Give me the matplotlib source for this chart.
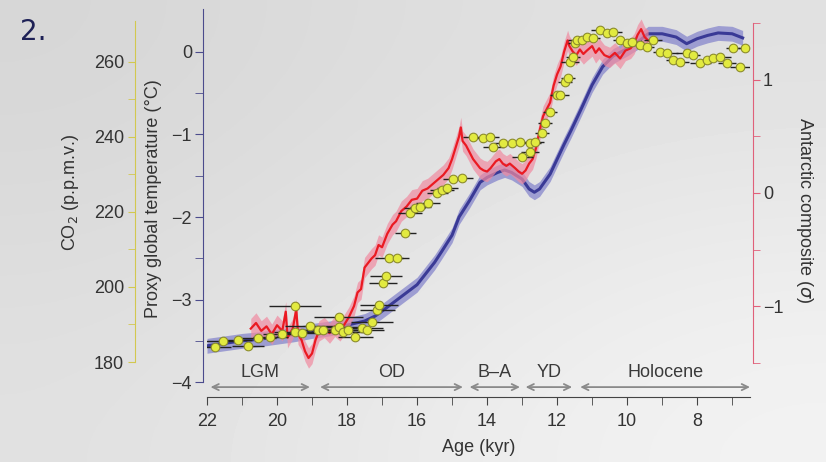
import numpy as np
import matplotlib
matplotlib.use("Agg")
import matplotlib.pyplot as plt

plt.rcParams['font.family'] = ['Liberation Sans', 'DejaVu Sans']

# global temperature stack (deg C) vs age (kyr)
temp_age = [22.0, 21.5, 21.0, 20.5, 20.0, 19.5, 19.0, 18.5, 18.0, 17.5, 17.2, 17.0,
            16.5, 16.0, 15.5, 15.3, 15.0, 14.8, 14.5, 14.2, 14.0, 13.7, 13.5, 13.3,
            13.0, 12.8, 12.65, 12.5, 12.2, 12.0, 11.8, 11.6, 11.3, 11.0, 10.7, 10.4,
            10.0, 9.7, 9.4, 9.0, 8.6, 8.3, 8.0, 7.7, 7.4, 7.0, 6.7]
temp_val = [-3.56, -3.53, -3.50, -3.48, -3.45, -3.42, -3.38, -3.35, -3.31, -3.26, -3.20, -3.14,
            -2.98, -2.82, -2.55, -2.42, -2.22, -2.00, -1.80, -1.58, -1.52, -1.46, -1.43, -1.46,
            -1.54, -1.66, -1.70, -1.66, -1.48, -1.30, -1.12, -0.95, -0.68, -0.40, -0.18, -0.05,
            0.04, 0.12, 0.22, 0.22, 0.18, 0.10, 0.16, 0.20, 0.23, 0.22, 0.17]
temp_unc = 0.09

# Antarctic composite (sigma)
ant_age = [20.75, 20.6, 20.45, 20.3, 20.15, 20.0, 19.85, 19.75, 19.7, 19.55, 19.45, 19.4,
           19.3, 19.2, 19.1, 19.0, 18.9, 18.8, 18.65, 18.5, 18.35, 18.2, 18.05, 17.95,
           17.8, 17.7, 17.6, 17.5, 17.4, 17.3, 17.2, 17.1, 17.0, 16.85, 16.7, 16.6,
           16.45, 16.3, 16.15, 16.0, 15.85, 15.7, 15.55, 15.4, 15.25, 15.1, 15.0, 14.9,
           14.8, 14.75, 14.7, 14.6, 14.5, 14.4, 14.3, 14.2, 14.1, 14.0, 13.9, 13.75,
           13.65, 13.55, 13.45, 13.35, 13.2, 13.1, 13.0, 12.9, 12.8, 12.7, 12.6, 12.5,
           12.4, 12.3, 12.2, 12.1, 12.0, 11.9, 11.8, 11.7, 11.65, 11.55, 11.45, 11.35,
           11.25, 11.15, 11.0, 10.9, 10.8, 10.65, 10.5, 10.35, 10.2, 10.05, 9.9, 9.8,
           9.7, 9.6, 9.5, 9.4]
ant_val = [-1.20, -1.15, -1.22, -1.18, -1.25, -1.17, -1.22, -1.05, -1.28, -1.20, -1.03, -1.25,
           -1.30, -1.40, -1.46, -1.42, -1.30, -1.22, -1.19, -1.24, -1.18, -1.22, -1.15, -1.10,
           -1.00, -0.88, -0.85, -0.66, -0.62, -0.58, -0.55, -0.46, -0.48, -0.36, -0.28, -0.25,
           -0.16, -0.12, -0.06, -0.05, 0.02, 0.04, 0.08, 0.12, 0.16, 0.22, 0.30, 0.40,
           0.50, 0.58, 0.46, 0.42, 0.36, 0.30, 0.26, 0.22, 0.20, 0.19, 0.22, 0.28,
           0.30, 0.26, 0.24, 0.26, 0.22, 0.19, 0.17, 0.20, 0.26, 0.30, 0.40, 0.55,
           0.68, 0.74, 0.80, 0.95, 1.05, 1.12, 1.25, 1.35, 1.30, 1.25, 1.22, 1.27,
           1.23, 1.26, 1.30, 1.24, 1.28, 1.22, 1.20, 1.24, 1.19, 1.26, 1.28, 1.32,
           1.40, 1.45, 1.38, 1.35]
ant_unc = 0.09

# CO2 (ppmv) with age uncertainty (kyr)
co2_age = [21.77, 21.54, 21.11, 20.83, 20.54, 20.20, 19.86, 19.49, 19.49, 19.29, 19.06, 18.83,
           18.69, 18.34, 18.23, 18.23, 18.11, 17.97, 17.77, 17.57, 17.43, 17.29, 17.14, 17.09,
           16.97, 16.89, 16.80, 16.57, 16.34, 16.20, 16.06, 15.91, 15.69, 15.43, 15.29, 15.14,
           14.97, 14.71, 14.40, 14.11, 13.91, 13.83, 13.54, 13.29, 13.06, 13.00, 12.77, 12.77,
           12.63, 12.43, 12.34, 12.20, 12.00, 11.91, 11.77, 11.69, 11.63, 11.54, 11.49, 11.43,
           11.29, 11.14, 10.97, 10.77, 10.57, 10.40, 10.20, 10.00, 9.86, 9.63, 9.43, 9.26,
           9.06, 8.86, 8.69, 8.49, 8.29, 8.11, 7.91, 7.71, 7.54, 7.34, 7.14, 6.97,
           6.77, 6.63]
co2_ppm = [184.0, 185.6, 185.9, 184.3, 186.4, 186.7, 187.5, 194.9, 188.0, 187.7, 189.6, 188.5,
           188.5, 188.5, 192.0, 189.3, 188.0, 188.5, 186.7, 189.0, 188.5, 190.7, 193.9, 195.2,
           201.1, 203.0, 207.7, 207.7, 214.4, 219.7, 221.0, 221.3, 222.4, 225.0, 225.9, 226.4,
           228.8, 229.1, 240.0, 239.7, 240.0, 237.3, 238.4, 238.4, 238.7, 234.7, 236.0, 238.4,
           238.7, 241.0, 243.7, 246.7, 251.2, 251.2, 254.7, 255.7, 260.0, 261.3, 265.0, 265.9,
           265.9, 266.7, 266.4, 268.5, 267.7, 268.0, 265.9, 265.0, 265.3, 264.5, 264.0, 265.9,
           262.7, 262.4, 260.5, 260.0, 262.4, 261.9, 259.7, 260.5, 261.0, 261.3, 259.7, 263.7,
           258.7, 263.7]
co2_err = [0.45, 0.5, 0.4, 0.45, 0.5, 0.5, 0.55, 0.75, 0.6, 0.5, 0.7, 0.6,
           0.5, 0.8, 0.7, 0.6, 0.6, 0.55, 0.5, 0.6, 0.5, 0.6, 0.5, 0.55,
           0.4, 0.45, 0.4, 0.35, 0.3, 0.35, 0.3, 0.3, 0.35, 0.3, 0.35, 0.3,
           0.3, 0.3, 0.3, 0.3, 0.25, 0.3, 0.25, 0.3, 0.25, 0.3, 0.25, 0.3,
           0.25, 0.2, 0.2, 0.2, 0.2, 0.25, 0.2, 0.2, 0.25, 0.2, 0.2, 0.25,
           0.2, 0.25, 0.2, 0.25, 0.2, 0.25, 0.2, 0.25, 0.2, 0.25, 0.2, 0.25,
           0.2, 0.3, 0.2, 0.25, 0.3, 0.2, 0.3, 0.25, 0.2, 0.3, 0.25, 0.2,
           0.3, 0.2]

periods = ['LGM', 'OD', 'B\u2013A', 'YD', 'Holocene']
period_start = [21.9, 18.77, 14.5, 12.9, 11.34]
period_end = [19.06, 14.69, 13.06, 11.57, 6.49]

PX = 0.72  # points per pixel at 100 dpi

fig = plt.figure(figsize=(8.26, 4.62), dpi=100)

# cloudy sky background
bg = fig.add_axes([0, 0, 1, 1], zorder=-10)
bg.imshow([[0.84, 0.87, 0.88], [0.86, 0.89, 0.92], [0.88, 0.92, 0.95]], cmap='gray',
          vmin=0, vmax=1, interpolation='bicubic', aspect='auto', extent=(0, 1, 0, 1))
bg.axis('off')

ax = fig.add_axes([207 / 826, 1 - 397 / 462, 543 / 826, 388 / 462])
ax.patch.set_alpha(0)
ax_r = ax.twinx()
ax_c = ax.twinx()

tcol = '#333333'
t = np.array(temp_val)
ax.fill_between(temp_age, t - temp_unc, t + temp_unc, color='#8686cc', alpha=0.75, lw=0)
ax.plot(temp_age, temp_val, color='#3a3a96', lw=2.2)

a = np.array(ant_val)
ax_r.fill_between(ant_age, a - ant_unc, a + ant_unc, color='#f08aa0', alpha=0.7, lw=0)
ax_r.plot(ant_age, ant_val, color='#ea1a22', lw=1.6)

ax_c.errorbar(co2_age, co2_ppm, xerr=co2_err, fmt='o', ms=6.2, mfc='#e2ea40', mec='#8c8c2c',
              mew=0.8, ecolor='#222222', elinewidth=1, capsize=0)

ax.set_xlim(22, 6.49)
ax.set_ylim(-4.18, 0.52)
ax_r.set_ylim(-1.805, 1.628)
ax_c.set_ylim(170.67, 274.1)

for a_ in (ax, ax_r, ax_c):
    a_.spines['top'].set_visible(False)
for a_ in (ax_r, ax_c):
    a_.spines['bottom'].set_visible(False)
ax.spines['right'].set_visible(False)
ax_c.spines['right'].set_visible(False)
ax_r.spines['left'].set_visible(False)

# temperature axis
ax.spines['left'].set_position(('outward', 4 * PX))
ax.spines['left'].set_bounds(-4, 0.52)
ax.spines['left'].set_color('#4b4b8c')
ax.set_yticks([-4, -3, -2, -1, 0])
ax.set_yticks([-3.5, -2.5, -1.5, -0.5], minor=True)
ax.tick_params(axis='y', which='both', length=8 * PX, color='#4b4b8c', labelsize=13,
               labelcolor=tcol, pad=3 * PX)
ax.set_ylabel('Proxy global temperature (\u00b0C)', fontsize=13, color=tcol)
ax.yaxis.set_label_coords((154 - 207) / 543, (397 - 199) / 388)

# x axis
ax.spines['bottom'].set_color('#444444')
ax.set_xticks([22, 20, 18, 16, 14, 12, 10, 8])
ax.set_xticks([21, 19, 17, 15, 13, 11, 9, 7], minor=True)
ax.tick_params(axis='x', which='both', length=8 * PX, color='#444444', labelsize=13,
               labelcolor=tcol, pad=8 * PX)
ax.set_xlabel('Age (kyr)', fontsize=13, color=tcol)
ax.xaxis.set_label_coords(0.5, (397 - 447) / 388)

# Antarctic axis
ax_r.spines['right'].set_position(('outward', 3 * PX))
ax_r.spines['right'].set_bounds(-1.5, 1.5)
ax_r.spines['right'].set_color('#e0607a')
ax_r.set_yticks([-1, 0, 1])
ax_r.set_yticks([-1.5, -0.5, 0.5, 1.5], minor=True)
ax_r.tick_params(axis='y', which='both', length=7 * PX, color='#e0607a', labelsize=13,
                 labelcolor=tcol, pad=3 * PX)
ax_r.set_ylabel(r'Antarctic composite ($\sigma$)', fontsize=13, color=tcol, rotation=-90)
ax_r.yaxis.set_label_coords((805 - 207) / 543, (397 - 210) / 388)

# CO2 axis
ax_c.yaxis.set_ticks_position('left')
ax_c.yaxis.set_label_position('left')
ax_c.spines['left'].set_visible(True)
ax_c.spines['left'].set_position(('outward', 72 * PX))
ax_c.spines['left'].set_bounds(180, 271)
ax_c.spines['left'].set_color('#d2c850')
ax_c.set_yticks([180, 200, 220, 240, 260])
ax_c.set_yticks([190, 210, 230, 250], minor=True)
ax_c.tick_params(axis='y', which='both', length=7 * PX, color='#d2c850', labelsize=13,
                 labelcolor=tcol, pad=4 * PX)
ax_c.set_ylabel('CO$_2$ (p.p.m.v.)', fontsize=13, color=tcol)
ax_c.yaxis.set_label_coords((70 - 207) / 543, (397 - 192) / 388)

for lab in (ax.yaxis.label, ax_r.yaxis.label, ax_c.yaxis.label, ax.xaxis.label):
    lab.set_ha('center')
    lab.set_va('center')
    lab.set_rotation_mode('anchor')

# climate periods
for name, s, e in zip(periods, period_start, period_end):
    ax.annotate('', xy=(e, -4.06), xytext=(s, -4.06),
                arrowprops=dict(arrowstyle='<->, head_length=0.45, head_width=0.22',
                                color='#8a8a8a', lw=1.3, shrinkA=0, shrinkB=0))
    ax.text((s + e) / 2, -3.88, name, ha='center', va='center', fontsize=13, color='#3a3a3a')

fig.text(20 / 826, 1 - 32 / 462, '2.', fontsize=20, color='#1e2156', va='center',
         family='DejaVu Sans')

fig.savefig('out.png', dpi=100)
